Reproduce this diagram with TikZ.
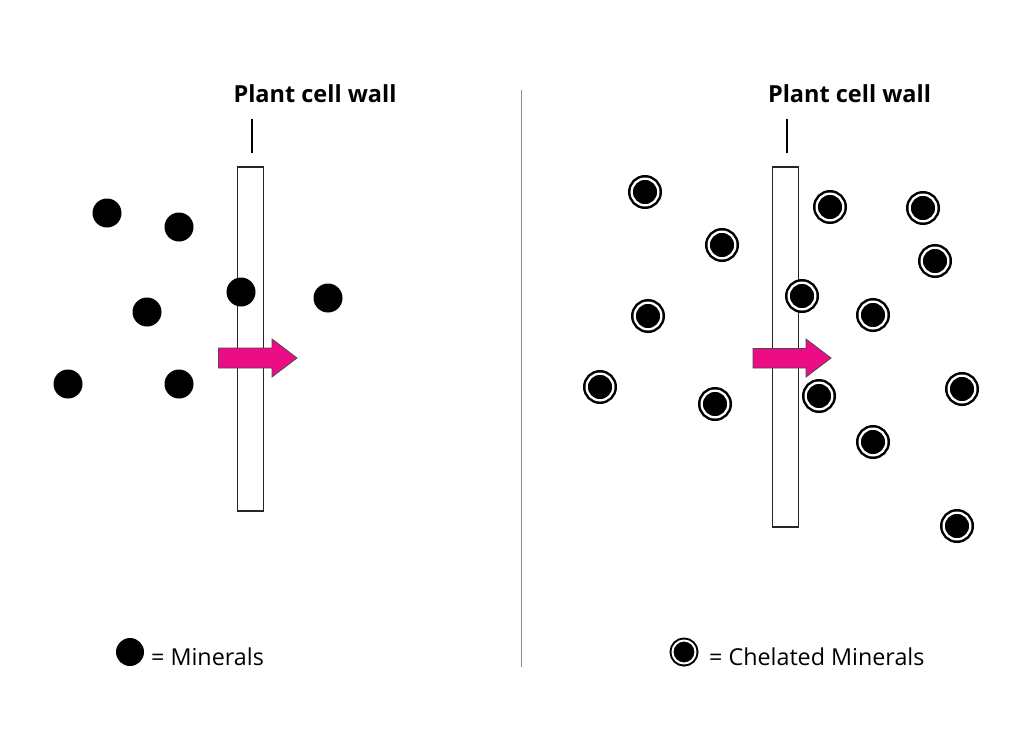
\documentclass[tikz,border=0pt]{standalone}
\usepackage{fontspec}
\setmainfont{Open Sans}
\begin{document}
\begin{tikzpicture}[x=1pt,y=-1pt,
  wall/.style={draw=black!85, line width=1.2pt, fill=white, rectangle, inner sep=0pt, minimum width=25.5pt},
  mineral/.style={circle, fill=black, inner sep=0pt, minimum size=29pt},
  chelated/.style={circle, fill=black, draw=black, double=white, double distance=2.3pt, line width=2.5pt, inner sep=0pt, minimum size=26.7pt},
  chelatedsmall/.style={circle, fill=black, draw=black, double=white, double distance=2pt, line width=2pt, inner sep=0pt, minimum size=23pt},
  title/.style={font=\fontsize{23.5pt}{28pt}\selectfont\bfseries, inner sep=0pt},
  legend/.style={font=\fontsize{23.3pt}{28pt}\selectfont, inner sep=0pt, anchor=base west},
  tick/.style={line width=2pt, black},
  flowarrow/.style={fill=arrowpink, draw=black!70, line width=0.8pt, line join=miter},
  divider/.style={draw=black!45, line width=0.8pt}
]
\definecolor{arrowpink}{HTML}{EC0C86}
\useasboundingbox (0,0) rectangle (1024,745);
\fill[white] (0,0) rectangle (1024,745);

% divider
\coordinate (dtop) at (521,90);
\coordinate (dbot) at (521,667);
\draw[divider] (dtop) -- (dbot);

% ---------- left panel ----------
\node[title, anchor=base] (t1) at (315,102) {Plant cell wall};
\coordinate (k1a) at (252,119);
\coordinate (k1b) at (252,153);
\draw[tick] (k1a) -- (k1b);
\node[wall, minimum height=344pt] (w1) at (250.5,339) {};

\node[mineral] (a1) at (107,213) {};
\node[mineral] (a2) at (179,227) {};
\node[mineral] (a3) at (147,312) {};
\node[mineral] (a4) at (241,292) {};
\node[mineral] (a5) at (328,298) {};
\node[mineral] (a6) at (68,384) {};
\node[mineral] (a7) at (179,384) {};

\draw[flowarrow] (218.5,348) -- (272,348) -- (272,339) -- (297,358) -- (272,377) -- (272,368) -- (218.5,368) -- cycle;

% ---------- right panel ----------
\node[title, anchor=base] (t2) at (849.5,102) {Plant cell wall};
\coordinate (k2a) at (787,119);
\coordinate (k2b) at (787,153);
\draw[tick] (k2a) -- (k2b);
\node[wall, minimum height=360pt] (w2) at (785.5,347) {};

\draw[flowarrow] (753,348.5) -- (806,348.5) -- (806,339) -- (831,358) -- (806,377) -- (806,368) -- (753,368) -- cycle;

\node[chelated] (b1) at (645,192) {};
\node[chelated] (b2) at (830,207) {};
\node[chelated] (b3) at (923,208) {};
\node[chelated] (b4) at (722,245) {};
\node[chelated] (b5) at (935,261) {};
\node[chelated] (b6) at (802,296) {};
\node[chelated] (b7) at (648,316) {};
\node[chelated] (b8) at (873,315) {};
\node[chelated] (b9) at (600,387) {};
\node[chelated] (b10) at (715,404) {};
\node[chelated] (b11) at (819,396) {};
\node[chelated] (b12) at (962,389) {};
\node[chelated] (b13) at (873,442) {};
\node[chelated] (b14) at (957,526) {};

% ---------- legend ----------
\node[mineral, minimum size=28pt] (lm) at (130,652) {};
\node[legend] (lmt) at (151,665) {= Minerals};
\node[chelatedsmall] (lc) at (684,652) {};
\node[legend] (lct) at (709,665) {= Chelated Minerals};
\end{tikzpicture}
\end{document}
